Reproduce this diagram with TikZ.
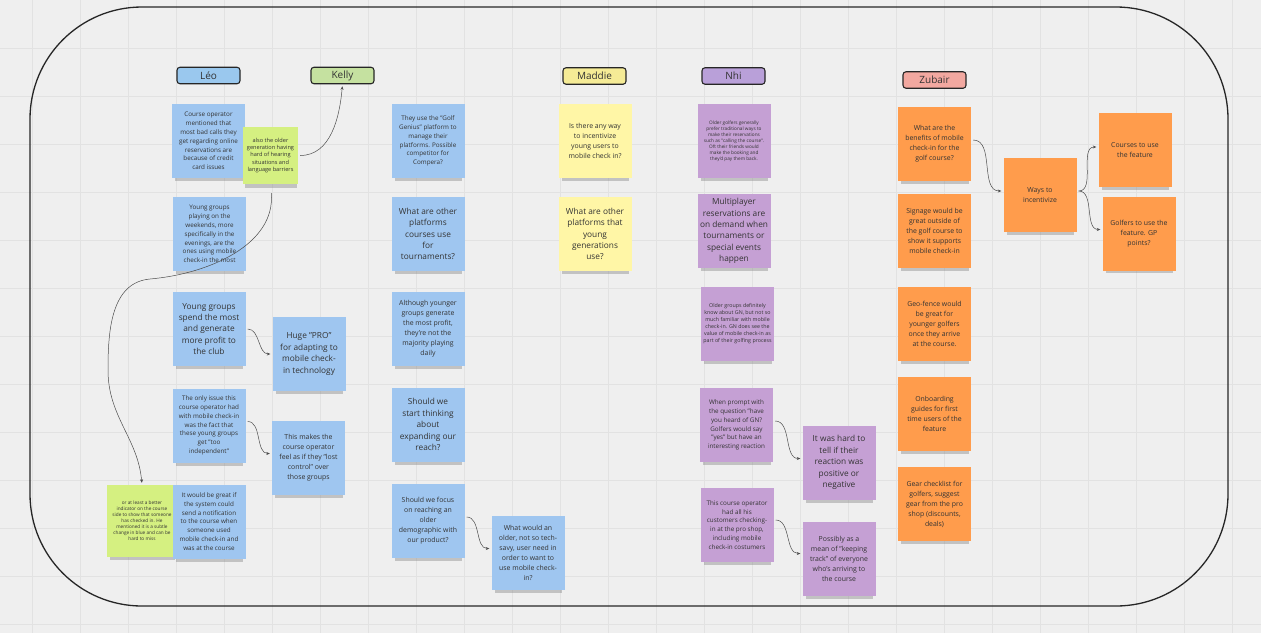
\documentclass[tikz,border=0pt]{standalone}
\usepackage{fontspec}
\setmainfont{Open Sans}
\usetikzlibrary{arrows.meta,shadows}

\definecolor{fondo}{HTML}{EFEFEF}
\definecolor{rejilla}{HTML}{E2E2E2}
\definecolor{azulNota}{HTML}{9FC6F0}
\definecolor{azulCab}{HTML}{9AC8EE}
\definecolor{verdeNota}{HTML}{D5F081}
\definecolor{verdeCab}{HTML}{C5E1A0}
\definecolor{amarilloNota}{HTML}{FFF6A6}
\definecolor{amarilloCab}{HTML}{F5EB96}
\definecolor{moradoNota}{HTML}{C5A0D4}
\definecolor{moradoCab}{HTML}{B9A0D9}
\definecolor{naranjaNota}{HTML}{FF9C4C}
\definecolor{naranjaCab}{HTML}{F2A8A0}

\tikzset{
nota/.style={rectangle,minimum width=73pt,minimum height=74pt,inner sep=0pt,align=center,text=black!80,
  drop shadow={shadow xshift=0.5pt,shadow yshift=-6pt,shadow scale=0.93,opacity=0.4}},
notaAzul/.style={nota,fill=azulNota},
notaVerde/.style={nota,fill=verdeNota},
notaAmarilla/.style={nota,fill=amarilloNota},
notaMorada/.style={nota,fill=moradoNota},
notaNaranja/.style={nota,fill=naranjaNota},
grande/.style={font=\fontsize{8.3}{11.4}\selectfont},
media/.style={font=\fontsize{6.9}{10}\selectfont},
chica/.style={font=\fontsize{6.3}{8.8}\selectfont},
minima/.style={font=\fontsize{4.7}{6}\selectfont},
cabecera/.style={draw=black!85,line width=1.1pt,rounded corners=3pt,minimum width=63pt,minimum height=16.5pt,inner sep=0pt,text=black!80,font=\fontsize{10}{12}\selectfont},
enlace/.style={draw=black!70,line width=0.5pt,shorten <=2pt,shorten >=2pt,-{Stealth[length=3.5pt,width=3pt]}}
}

\begin{document}
\begin{tikzpicture}[x=1pt,y=-1pt]
    \useasboundingbox (0,0) rectangle (1261,633);
    \fill[fondo] (0,0) rectangle (1261,633);
    \foreach \i in {0,...,25}{
    \draw[rejilla,line width=1pt] (32+48*\i,0) -- (32+48*\i,633);
    }
    \foreach \j in {1,...,13}{
    \draw[rejilla,line width=1pt] (0,48*\j) -- (1261,48*\j);
    }
    \draw[black!85,line width=1.3pt,rounded corners=112pt] (30,7) rectangle (1228,606);

    % cabeceras
    \node[cabecera,fill=azulCab] (leo) at (208.5,75.5) {Léo};
    \node[cabecera,fill=verdeCab] (kelly) at (342.5,75.5) {Kelly};
    \node[cabecera,fill=amarilloCab] (maddie) at (594.5,76) {Maddie};
    \node[cabecera,fill=moradoCab] (nhi) at (733.5,76) {Nhi};
    \node[cabecera,fill=naranjaCab] (zubair) at (934.5,80) {Zubair};

    % Léo y Kelly
    \node[notaAzul,chica] (leoA) at (208.5,141) {Course operator\\mentioned that\\most bad calls they\\get regarding online\\reservations are\\because of credit\\card issues};
    \node[notaVerde,font=\fontsize{5.6}{7.4}\selectfont,minimum width=55pt,minimum height=57pt] (kellyA) at (270.5,155.5) {also the older\\generation having\\hard of hearing\\situations and\\language barriers};
    \node[notaAzul,chica] (leoB) at (209.5,234) {Young groups\\playing on the\\weekends, more\\specifically in the\\evenings, are the\\ones using mobile\\check-in the most};
    \node[notaAzul,grande] (leoC) at (209,329) {Young groups\\spend the most\\and generate\\more profit to\\the club};
    \node[notaAzul,grande] (leoD) at (309,354) {Huge "PRO"\\for adapting to\\mobile check-\\in technology};
    \node[notaAzul,chica] (leoE) at (209,425.5) {The only issue this\\course operator had\\with mobile check-in\\was the fact that\\these young groups\\get "too\\independent"};
    \node[notaAzul,media] (leoF) at (308.5,457.5) {This makes the\\course operator\\feel as if they "lost\\control" over\\those groups};
    \node[notaVerde,minima,minimum width=70pt,minimum height=72pt] (kellyB) at (142,521) {or at least a better\\indicator on the course\\side to show that someone\\has checked in. He\\mentioned it is a subtle\\change in blue and can be\\hard to miss};
    \node[notaAzul,chica] (leoG) at (209,521.5) {It would be great if\\the system could\\send a notification\\to the course when\\someone used\\mobile check-in and\\was at the course};

    % columna sin cabecera
    \node[notaAzul,chica] (colA) at (428,141) {They use the "Golf\\Genius" platform to\\manage their\\platforms. Possible\\competitor for\\Compera?};
    \node[notaAzul,grande] (colB) at (428,234) {What are other\\platforms\\courses use\\for\\tournaments?};
    \node[notaAzul,media] (colC) at (428,329) {Although younger\\groups generate\\the most profit,\\they're not the\\majority playing\\daily};
    \node[notaAzul,grande] (colD) at (428,424.5) {Should we\\start thinking\\about\\expanding our\\reach?};
    \node[notaAzul,media] (colE) at (428,521) {Should we focus\\on reaching an\\older\\demographic with\\our product?};
    \node[notaAzul,media] (colF) at (528,552.5) {What would an\\older, not so tech-\\savy, user need in\\order to want to\\use mobile check-\\in?};

    % Maddie
    \node[notaAmarilla,media] (madA) at (595,141) {Is there any way\\to incentivize\\young users to\\mobile check in?};
    \node[notaAmarilla,grande] (madB) at (595,234) {What are other\\platforms that\\young\\generations\\use?};

    % Nhi
    \node[notaMorada,minima] (nhiA) at (734,141) {Older golfers generally\\prefer traditional ways to\\make their reservations\\such as "calling the course".\\Oft their friends would\\make the booking and\\they'd pay them back.};
    \node[notaMorada,grande] (nhiB) at (734,231) {Multiplayer\\reservations are\\on demand when\\tournaments or\\special events\\happen};
    \node[notaMorada,font=\fontsize{5.3}{7}\selectfont] (nhiC) at (737.5,324) {Older groups definitely\\know about GN, but not so\\much familiar with mobile\\check-in. GN does see the\\value of mobile check-in as\\part of their golfing process};
    \node[notaMorada,chica] (nhiD) at (736.5,425) {When prompt with\\the question "have\\you heard of GN?\\Golfers would say\\"yes" but have an\\interesting reaction};
    \node[notaMorada,grande] (nhiE) at (839,462.5) {It was hard to\\tell if their\\reaction was\\positive or\\negative};
    \node[notaMorada,chica] (nhiF) at (737,525) {This course operator\\had all his\\customers checking-\\in at the pro shop,\\including mobile\\check-in costumers};
    \node[notaMorada,media] (nhiG) at (839,558.5) {Possibly as a\\mean of "keeping\\track" of everyone\\who's arriving to\\the course};

    % Zubair
    \node[notaNaranja,media] (zubA) at (934.5,144) {What are the\\benefits of mobile\\check-in for the\\golf course?};
    \node[notaNaranja,media] (zubB) at (934.5,231) {Signage would be\\great outside of\\the golf course to\\show it supports\\mobile check-in};
    \node[notaNaranja,media] (zubC) at (934.5,324) {Geo-fence would\\be great for\\younger golfers\\once they arrive\\at the course.};
    \node[notaNaranja,media] (zubD) at (934.5,414) {Onboarding\\guides for first\\time users of the\\feature};
    \node[notaNaranja,media] (zubE) at (934.5,504) {Gear checklist for\\golfers, suggest\\gear from the pro\\shop (discounts,\\deals)};
    \node[notaNaranja,media] (zubF) at (1040,195) {Ways to\\incentivize};
    \node[notaNaranja,media] (zubG) at (1135,150) {Courses to use\\the feature};
    \node[notaNaranja,media] (zubH) at (1139,233.5) {Golfers to use the\\feature. GP\\points?};

    % enlaces
    \draw[enlace] (kellyA.east) to[out=0,in=-95] (kelly.south);
    \draw[enlace,shorten <=9pt] (kellyA.south) to[out=-85,in=5] (150,279) to[out=185,in=90] (108,370) to[out=-90,in=95] (kellyB.north);
    \draw[enlace] (leoC.east) to[out=0,in=180] (leoD.west);
    \draw[enlace] ([yshift=4pt]leoE.east) to[out=0,in=180] ([yshift=4pt]leoF.west);
    \draw[enlace] ([yshift=4pt]colE.east) to[out=0,in=180] ([yshift=4pt]colF.west);
    \draw[enlace] ([yshift=4pt]nhiD.east) to[out=0,in=180] ([yshift=4pt]nhiE.west);
    \draw[enlace] ([yshift=5pt]nhiF.east) to[out=0,in=180] ([yshift=5pt]nhiG.west);
    \draw[enlace] ([yshift=4pt]zubA.east) to[out=0,in=180] ([yshift=4pt]zubF.west);
    \draw[enlace] ([yshift=4pt]zubF.east) to[out=0,in=180] ([yshift=3pt]zubG.west);
    \draw[enlace] ([yshift=4pt]zubF.east) to[out=0,in=180] ([yshift=4pt]zubH.west);
\end{tikzpicture}
\end{document}
